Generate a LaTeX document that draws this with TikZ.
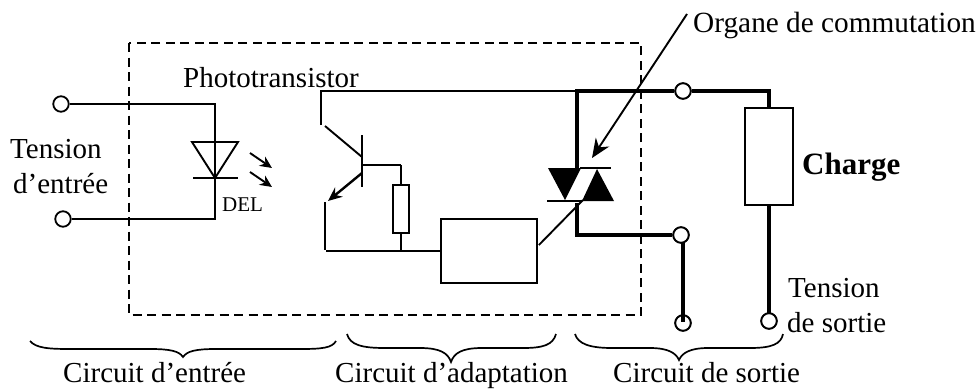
\documentclass[tikz,border=0pt]{standalone}
\usepackage{fontspec}
\setmainfont{Liberation Serif}
\usetikzlibrary{arrows.meta}
\tikzset{
  thin wire/.style={line width=1.9pt},
  thick wire/.style={line width=3.8pt},
  term/.style={circle,draw,line width=1.8pt,fill=white,minimum size=15.5pt,inner sep=0pt},
  lab/.style={anchor=base west,inner sep=0pt,font=\fontsize{29}{35}\selectfont},
  boxx/.style={draw,line width=1.8pt,fill=white,inner sep=0pt},
  brace/.style={line width=1.7pt}
}
\begin{document}
\begin{tikzpicture}[x=1pt,y=-1pt]
\useasboundingbox (0,0) rectangle (980,389);
\draw[line width=1.7pt,dash pattern=on 9pt off 5.5pt] (129,43) rectangle (641,315);
% terminals
\node[term] (t1) at (61,104) {};
\node[term] (t2) at (63,219) {};
\node[term] (t3) at (683,91) {};
\node[term] (t4) at (681,235) {};
\node[term] (t5) at (683,323) {};
\node[term] (t6) at (769,321) {};
% input
\coordinate (dtop) at (215,104);
\coordinate (dbot) at (215,219);
\draw[thin wire] (t1) -- (dtop) -- (dbot) -- (t2);
\draw[thin wire,line join=miter] (192,142) -- (238,142) -- (215,178) -- cycle;
\draw[thin wire] (193,178) -- (238,178);
\draw[line width=1.9pt,-{Stealth[length=12pt,width=11pt]}] (250,153) -- (272,168);
\draw[line width=1.9pt,-{Stealth[length=12pt,width=11pt]}] (250,172) -- (272,187);
% transistor
\coordinate (cA) at (321,125);
\coordinate (cB) at (321,91);
\coordinate (tjoin) at (577,91);
\draw[thin wire] (cA) -- (cB) -- (tjoin);
\draw[thin wire] (325,126) -- (362,157);
\draw[line width=2.4pt] (362,135) -- (362,187);
\coordinate (bB) at (401,165);
\draw[line width=2.4pt] (362,165) -- (401,165);
\node[boxx,minimum width=16pt,minimum height=48pt] (res) at (401,209) {};
\draw[thin wire] (bB) -- (res.north);
\draw[line width=2.4pt,-{Stealth[length=14pt,width=12pt]}] (362,173) -- (328,201);
\draw[thin wire] (325,202) -- (325,250);
\node[boxx,minimum width=96pt,minimum height=64pt] (adapt) at (489,251) {};
\coordinate (lowL) at (326,251);
\draw[thin wire] (lowL) -- (adapt.west);
\draw[thin wire] (res.south) -- (401,251);
% triac
\fill (548,168) -- (581,168) -- (565,200) -- cycle;
\fill (597,169) -- (582,201) -- (614,201) -- cycle;
\draw[thin wire] (580,168) -- (611,168);
\draw[thin wire] (547,201) -- (582,201);
\coordinate (gate) at (583,200);
\draw[thin wire] (adapt.east) ++(1,-6) -- (gate);
% power
\coordinate (loadT) at (769,91);
\coordinate (bend) at (577,235);
\draw[thick wire,line join=miter] (577,168) -- (tjoin) -- (t3);
\node[boxx,minimum width=48pt,minimum height=97pt] (load) at (769,156.5) {};
\draw[thick wire,line join=miter] (t3) -- (loadT) -- (load.north);
\draw[thick wire] (load.south) -- (t6.north);
\draw[thick wire,line join=miter] (577,203) -- (bend) -- (t4.west);
\coordinate (t4b) at (683,242);
\coordinate (t5t) at (683,316);
\draw[thick wire] (t4b) -- (t5t);
% redraw the terminal rings above the wires
\foreach \n/\p in {a/t3,b/t4,c/t5,d/t6}{\node[term] at (\p) {};}
\draw[thick wire] (683,316) -- (683,322);
\draw[thick wire] (769,305) -- (769,313);
% pointer
\coordinate (ptrA) at (687,14);
\coordinate (ptrB) at (592,158);
\draw[line width=1.9pt,-{Stealth[length=19pt,width=16pt]}] (ptrA) -- (ptrB);
% braces
\draw[brace] (30,341) .. controls (36,348) and (48,349) .. (70,349) -- (150,349)
  .. controls (170,349) and (179,351) .. (183,357)
  .. controls (187,351) and (196,349) .. (216,349) -- (300,349)
  .. controls (322,349) and (332,348) .. (336,341);
\draw[brace] (347,334) .. controls (350,345) and (362,348) .. (385,348) -- (420,348)
  .. controls (440,348) and (448,353) .. (451,362)
  .. controls (454,353) and (462,348) .. (482,348) -- (523,348)
  .. controls (543,348) and (553,345) .. (556,334);
\draw[brace] (575,334) .. controls (578,344) and (590,348) .. (612,348) -- (650,348)
  .. controls (668,348) and (676,353) .. (679,360)
  .. controls (682,353) and (690,348) .. (708,348) -- (750,348)
  .. controls (772,348) and (781,344) .. (783,334);
% text
\node[lab] (l1) at (10,158) {Tension};
\node[lab] (l2) at (13,193) {d’entrée};
\node[lab] (l3) at (183,87) {Phototransistor};
\node[lab,font=\fontsize{21}{25}\selectfont] (l4) at (222,211) {DEL};
\node[lab,font=\fontsize{29.3}{35}\selectfont] (l5) at (693,32) {Organe de commutation};
\node[lab,font=\fontsize{31}{35}\selectfont\bfseries] (l6) at (802,174) {Charge};
\node[lab] (l7) at (788,297) {Tension};
\node[lab] (l8) at (787,332) {de sortie};
\node[lab] (l9) at (63,382.5) {Circuit d’entrée};
\node[lab] (l10) at (335,382.5) {Circuit d’adaptation};
\node[lab] (l11) at (613,382.5) {Circuit de sortie};
\end{tikzpicture}
\end{document}
